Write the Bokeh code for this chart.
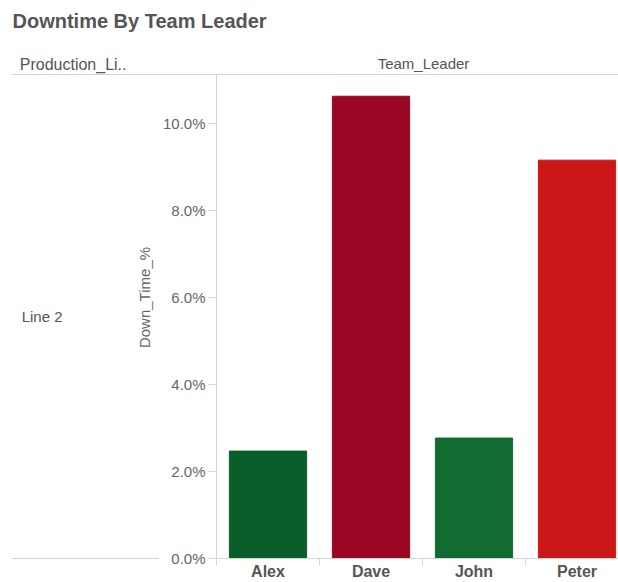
from bokeh.plotting import figure
from bokeh.models import (Label, FixedTicker, PrintfTickFormatter, Range1d, Span,
                          ColumnDataSource, LinearAxis, Title)
from bokeh.embed import file_html
from bokeh.resources import INLINE
import numpy as np

# ---- data ----
categories = ["Alex", "Dave", "John", "Peter"]
downtime_pct = [2.47, 10.63, 2.77, 9.16]
bar_colors = ["#0a5e2a", "#9a0724", "#126b30", "#cc1719"]
y_ticks = [0, 2, 4, 6, 8, 10]
y_max = 11.13            # top of the value pane
row_label = "Line 2"
title_text = "Downtime By Team Leader"
row_header = "Production_Li.."
col_header = "Team_Leader"
y_title = "Down_Time_%"

# ---- layout constants ----
W, H = 618, 582
FONT = "Liberation Sans"
GRID = "#d4d4d4"
FRAME_TOP = 36          # px, top of plotting frame
PANE_TOP = 74           # px, header separator line
PANE_BOTTOM = 558       # px, baseline
PX_PER_UNIT = (PANE_BOTTOM - PANE_TOP) / y_max
hdr_units = (PANE_TOP - FRAME_TOP) / PX_PER_UNIT

pos = np.arange(len(categories)) + 0.5
src = ColumnDataSource(dict(x=pos, top=downtime_pct, color=bar_colors, name=categories))

p = figure(width=W, height=H, output_backend="svg", toolbar_location=None,
           x_range=Range1d(0, 402 / 103), y_range=Range1d(0, y_max + hdr_units),
           min_border_left=216, min_border_right=0, min_border_top=FRAME_TOP,
           min_border_bottom=H - PANE_BOTTOM)
p.outline_line_color = None
p.grid.visible = False

p.vbar(x="x", top="top", width=0.75, color="color", source=src)

# title
p.title = Title(text=title_text, align="left", offset=12 - 216, standoff=10,
                vertical_align="bottom", text_font=FONT, text_font_style="bold",
                text_font_size="20px", text_color="#555555")

# header separator across the value pane, column header text
p.add_layout(Span(location=y_max, dimension="width", line_color=GRID, line_width=1))
p.add_layout(Label(x=423 - 216, y=PANE_BOTTOM - 63, x_units="screen", y_units="screen",
                   text=col_header, text_font=FONT, text_font_size="15px",
                   text_color="#555555", text_align="center",
                   text_baseline="alphabetic"))

# value axis
ya = p.yaxis[0]
ya.ticker = FixedTicker(ticks=y_ticks, minor_ticks=[])
ya.formatter = PrintfTickFormatter(format="%.1f%%")
ya.bounds = (0, y_max)
ya.axis_label = y_title
ya.axis_label_text_font = FONT
ya.axis_label_text_font_style = "normal"
ya.axis_label_text_font_size = "15px"
ya.axis_label_text_color = "#666666"
ya.axis_label_standoff = 7
ya.major_label_text_font = FONT
ya.major_label_text_font_size = "15px"
ya.major_label_text_color = "#666666"
ya.major_tick_out = 8
ya.major_tick_in = 0
ya.major_label_standoff = 3
ya.major_tick_line_color = GRID
ya.axis_line_color = GRID

# row header: "Line 2" centred on the pane
ra = LinearAxis(ticker=FixedTicker(ticks=[y_max / 2], minor_ticks=[]),
                major_label_overrides={y_max / 2: row_label})
ra.axis_line_color = None
ra.major_tick_line_color = None
ra.major_tick_out = 0
ra.major_tick_in = 0
ra.major_label_standoff = 70
ra.major_label_text_font = FONT
ra.major_label_text_font_size = "15px"
ra.major_label_text_color = "#555555"
p.add_layout(ra, "left")

# row header title "Production_Li.." in the header band
hdr_y = y_max + 10 / PX_PER_UNIT
ha = LinearAxis(ticker=FixedTicker(ticks=[hdr_y], minor_ticks=[]),
                major_label_overrides={hdr_y: row_header})
ha.axis_line_color = None
ha.major_tick_line_color = None
ha.major_tick_out = 0
ha.major_tick_in = 0
ha.major_label_standoff = -108
ha.major_label_text_font = FONT
ha.major_label_text_font_size = "16px"
ha.major_label_text_color = "#555555"
p.add_layout(ha, "left")

# separator lines in the row-header pane (drawn as long inward ticks)
la = LinearAxis(ticker=FixedTicker(ticks=[y_max], minor_ticks=[]),
                major_label_overrides={y_max: ""})
la.axis_line_color = None
la.major_tick_out = 5
la.major_tick_in = 203
la.major_label_standoff = 0
la.major_tick_line_color = GRID
p.add_layout(la, "left")

lb = LinearAxis(ticker=FixedTicker(ticks=[0], minor_ticks=[]),
                major_label_overrides={0: ""})
lb.axis_line_color = None
lb.major_tick_out = 0
lb.major_tick_in = 147
lb.major_label_standoff = 0
lb.major_tick_line_color = GRID
p.add_layout(lb, "left")

# category axis
xa = p.xaxis[0]
xa.ticker = FixedTicker(ticks=list(pos), minor_ticks=list(range(len(categories) + 1)))
xa.major_label_overrides = {float(v): c for v, c in zip(pos, categories)}
xa.major_tick_out = 0
xa.major_tick_in = 0
xa.minor_tick_out = 7
xa.minor_tick_in = 0
xa.minor_tick_line_color = GRID
xa.axis_line_color = GRID
xa.major_label_text_font = FONT
xa.major_label_text_font_style = "bold"
xa.major_label_text_font_size = "16px"
xa.major_label_text_color = "#555555"
xa.major_label_standoff = -3

open("out.html", "w").write(file_html(p, INLINE))
